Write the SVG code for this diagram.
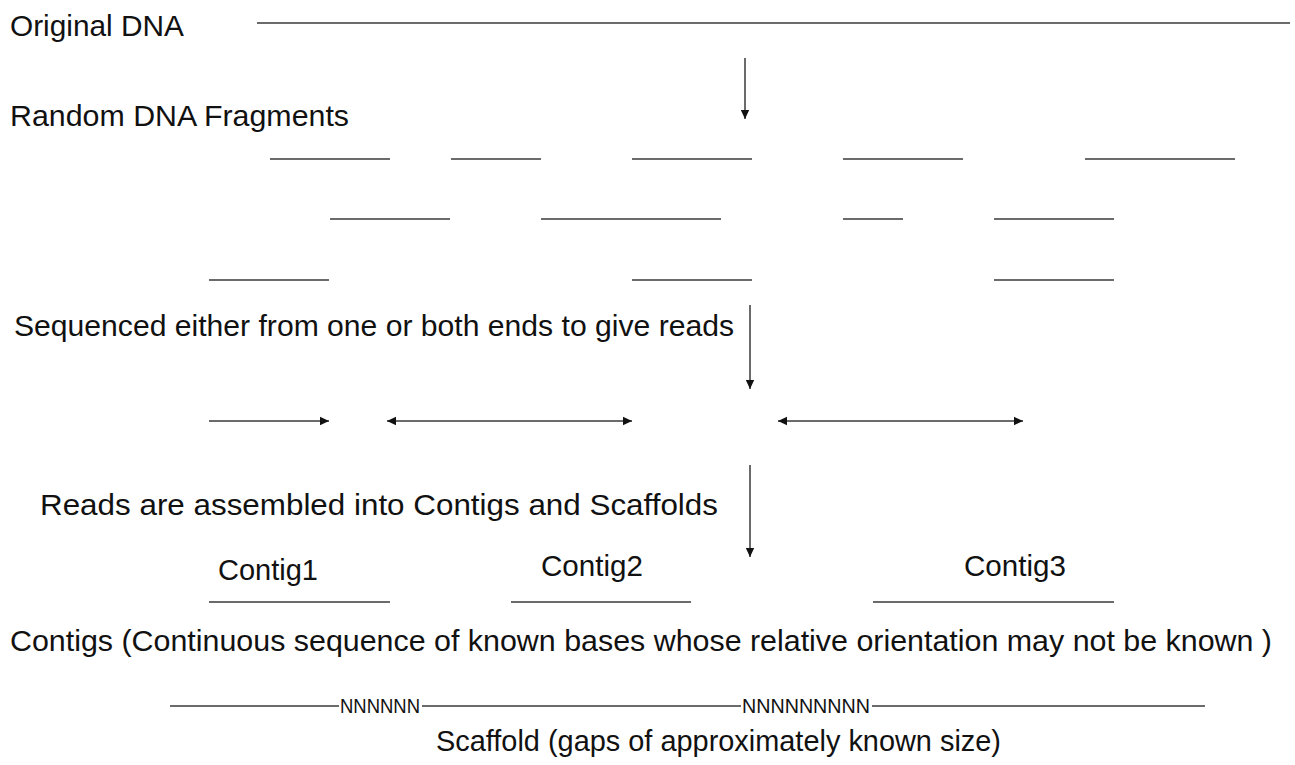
<svg xmlns="http://www.w3.org/2000/svg" width="1295" height="765" viewBox="0 0 1295 765">
<defs>
<style>
.t{font-family:"Liberation Sans",Arial,sans-serif;font-size:29.5px;fill:#111}
.n{font-family:"Liberation Sans",Arial,sans-serif;font-size:20px;fill:#111}
.l{stroke:#3a3a3a;stroke-width:1.5;fill:none}
.a{stroke:#3a3a3a;stroke-width:1.5;fill:none;marker-end:url(#ah)}
.b{stroke:#3a3a3a;stroke-width:1.5;fill:none;marker-end:url(#ah);marker-start:url(#ahs)}
</style>
<marker id="ah" markerWidth="10" markerHeight="10" refX="9" refY="5" orient="auto" markerUnits="userSpaceOnUse"><path d="M0,0.8 L9,5 L0,9.2 Z" fill="#111"/></marker>
<marker id="ahs" markerWidth="10" markerHeight="10" refX="1" refY="5" orient="auto" markerUnits="userSpaceOnUse"><path d="M10,0.8 L1,5 L10,9.2 Z" fill="#111"/></marker>
</defs>
<rect width="1295" height="765" fill="#fff"/>
<g id="labels">
<text class="t" x="10" y="36" textLength="174" lengthAdjust="spacingAndGlyphs">Original DNA</text>
<text class="t" x="10" y="126" textLength="339" lengthAdjust="spacingAndGlyphs">Random DNA Fragments</text>
<text class="t" x="14" y="336" textLength="720" lengthAdjust="spacingAndGlyphs">Sequenced either from one or both ends to give reads</text>
<text class="t" x="40" y="515" textLength="678" lengthAdjust="spacingAndGlyphs">Reads are assembled into Contigs and Scaffolds</text>
<text class="t" x="10" y="651" textLength="1262" lengthAdjust="spacingAndGlyphs">Contigs (Continuous sequence of known bases whose relative orientation may not be known )</text>
<text class="t" x="436" y="751" textLength="565" lengthAdjust="spacingAndGlyphs">Scaffold (gaps of approximately known size)</text>
</g>
<g id="original-dna"><line class="l" x1="257" y1="23" x2="1290" y2="23"/></g>
<g id="fragments">
<line class="l" x1="270" y1="159" x2="390" y2="159"/>
<line class="l" x1="451" y1="159" x2="541" y2="159"/>
<line class="l" x1="632" y1="159" x2="752" y2="159"/>
<line class="l" x1="843" y1="159" x2="963" y2="159"/>
<line class="l" x1="1085" y1="159" x2="1235" y2="159"/>
<line class="l" x1="330" y1="219" x2="450" y2="219"/>
<line class="l" x1="541" y1="219" x2="721" y2="219"/>
<line class="l" x1="843" y1="219" x2="903" y2="219"/>
<line class="l" x1="994" y1="219" x2="1114" y2="219"/>
<line class="l" x1="209" y1="280" x2="329" y2="280"/>
<line class="l" x1="632" y1="280" x2="752" y2="280"/>
<line class="l" x1="994" y1="280" x2="1114" y2="280"/>
</g>
<g id="reads">
<line class="a" x1="209" y1="421" x2="329" y2="421"/>
<line class="b" x1="387" y1="421" x2="632" y2="421"/>
<line class="b" x1="778" y1="421" x2="1023" y2="421"/>
</g>
<g id="contigs">
<text class="t" x="218" y="580" textLength="100" lengthAdjust="spacingAndGlyphs">Contig1</text>
<text class="t" x="541" y="576" textLength="102" lengthAdjust="spacingAndGlyphs">Contig2</text>
<text class="t" x="964" y="576" textLength="102" lengthAdjust="spacingAndGlyphs">Contig3</text>
<line class="l" x1="209" y1="602" x2="390" y2="602"/>
<line class="l" x1="511" y1="602" x2="691" y2="602"/>
<line class="l" x1="873" y1="602" x2="1114" y2="602"/>
</g>
<g id="scaffold">
<line class="l" x1="170" y1="706" x2="339" y2="706"/>
<text class="n" x="340" y="713" textLength="80" lengthAdjust="spacingAndGlyphs">NNNNNN</text>
<line class="l" x1="422" y1="706" x2="741" y2="706"/>
<text class="n" x="742" y="713" textLength="128" lengthAdjust="spacingAndGlyphs">NNNNNNNNN</text>
<line class="l" x1="872" y1="706" x2="1205" y2="706"/>
</g>
<g id="connectors">
<line class="a" x1="745" y1="58" x2="745" y2="119"/>
<line class="a" x1="750" y1="305" x2="750" y2="389"/>
<line class="a" x1="750" y1="465" x2="750" y2="557"/>
</g>
</svg>
